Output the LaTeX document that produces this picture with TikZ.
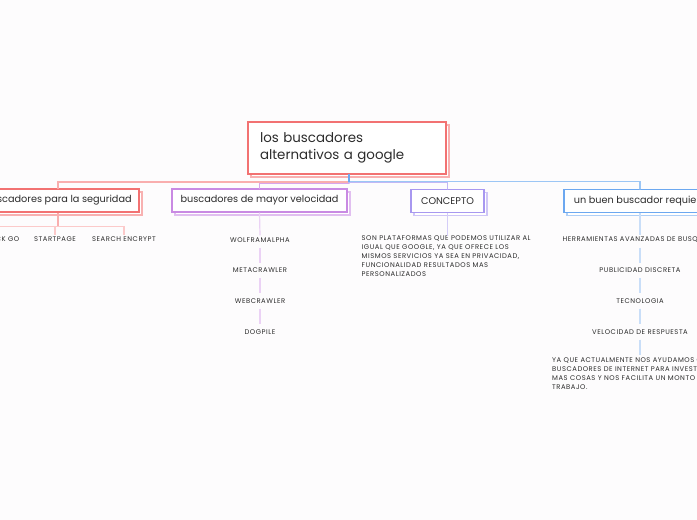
\documentclass[tikz,border=0pt]{standalone}
\usepackage{fontspec}
\setmainfont{Poppins}
\newfontfamily\capsfont[LetterSpace=8]{Poppins}
\usetikzlibrary{shadows}
\definecolor{bg}{HTML}{FDFCFD}
\definecolor{cred}{HTML}{F27272}
\definecolor{lred}{HTML}{F9AEAE}
\definecolor{sred}{HTML}{FCCACA}
\definecolor{cpur}{HTML}{C98AE3}
\definecolor{lpur}{HTML}{D9A6EC}
\definecolor{spur}{HTML}{EBD2F5}
\definecolor{clav}{HTML}{A898F0}
\definecolor{llav}{HTML}{C2B8F5}
\definecolor{cblu}{HTML}{6CA8F0}
\definecolor{lblu}{HTML}{9CC6F5}
\definecolor{sblu}{HTML}{C9DEF8}
\definecolor{txt}{HTML}{2C2C2C}
\begin{document}
\begin{tikzpicture}[x=1pt,y=-1pt,
  box/.style={draw=#1, line width=1.2pt, fill=white, rectangle, inner sep=0pt,
    copy shadow={shadow xshift=3pt, shadow yshift=-3pt, draw=#1!55, fill=white}},
  childtxt/.style={font=\fontsize{9.7}{12}\selectfont, text=txt, minimum height=23pt},
  item/.style={font=\capsfont\fontsize{6.8}{9}\selectfont, text=txt, inner sep=0pt, minimum height=9pt},
  para/.style={font=\capsfont\fontsize{6.8}{9}\selectfont, text=txt, inner sep=0pt, align=left, anchor=north west},
  main/.style={line width=1.6pt, line cap=round},
  sub/.style={line width=1.2pt},
]
\useasboundingbox[fill=bg] (0,0) rectangle (697,520);
\clip (0,0) rectangle (697,520);

% root
\node[box=cred, minimum width=198pt, minimum height=52pt, text width=174pt, align=left,
  font=\fontsize{13.4}{17}\selectfont, text=txt] (root) at (347,148)
  {los buscadores\\alternativos a google};

% children
\node[box=cred, childtxt, minimum width=162pt] (c1) at (58,200.5) {buscadores para la seguridad};
\node[box=cpur, childtxt, minimum width=175pt] (c2) at (259.5,200.5) {buscadores de mayor velocidad};
\node[box=clav, childtxt, minimum width=73pt] (c3) at (447.5,201) {CONCEPTO};
\node[box=cblu, childtxt, minimum width=152pt] (c4) at (640,201) {un buen buscador requiere};

% main connectors
\coordinate (rb) at ([xshift=2pt]root.south);
\draw[main, lred] (rb) -- ++(0,7.5) -| (c1.north);
\draw[main, lpur] ([yshift=-1pt]rb |- 0,182.5) -| (c2.north);
\draw[main, llav] (rb) -- ++(0,8) -| (c3.north);
\draw[main, lblu] (rb) -- ++(0,7) -| (c4.north);
\draw[main, cblu] (rb) -- ++(0,7);

% left branch items
\node[item] (d1) at (-9,239.5) {DUCK DUCK GO};
\node[item] (d2) at (55,239.5) {STARTPAGE};
\node[item] (d3) at (124,239.5) {SEARCH ENCRYPT};
\coordinate (b1) at (58,226.5);
\draw[sub, lred] (c1.south) -- (b1);
\draw[sub, sred] (b1) -| (d1.north);
\draw[sub, sred] (b1) -| (d2.north);
\draw[sub, sred] (b1) -| (d3.north);

% purple branch items
\node[item] (p1) at (260,240) {WOLFRAMALPHA};
\node[item] (p2) at (260,270.5) {METACRAWLER};
\node[item] (p3) at (260,301) {WEBCRAWLER};
\node[item] (p4) at (260,332) {DOGPILE};
\draw[sub, spur] (c2.south) -- (p1.north);
\draw[sub, spur, shorten <=3pt, shorten >=3pt] (p1.south) -- (p2.north);
\draw[sub, spur, shorten <=3pt, shorten >=3pt] (p2.south) -- (p3.north);
\draw[sub, spur, shorten <=3pt, shorten >=3pt] (p3.south) -- (p4.north);

% concept
\node[para] (k1) at (361.5,235.5) {SON PLATAFORMAS QUE PODEMOS UTILIZAR AL\\IGUAL QUE GOOGLE, YA QUE OFRECE LOS\\MISMOS SERVICIOS YA SEA EN PRIVACIDAD,\\FUNCIONALIDAD RESULTADOS MAS\\PERSONALIZADOS};
\draw[sub, llav!70] (c3.south) -- (c3.south |- k1.north);

% blue branch items
\node[item] (q1) at (640,240) {HERRAMIENTAS AVANZADAS DE BUSQUEDA};
\node[item] (q2) at (640,270.5) {PUBLICIDAD DISCRETA};
\node[item] (q3) at (640,301) {TECNOLOGIA};
\node[item] (q4) at (640,332) {VELOCIDAD DE RESPUESTA};
\node[para] (q5) at (552,357.5) {YA QUE ACTUALMENTE NOS AYUDAMOS CON LOS\\BUSCADORES DE INTERNET PARA INVESTIGAR\\MAS COSAS Y NOS FACILITA UN MONTO DE\\TRABAJO.};
\draw[sub, sblu] (c4.south) -- (q1.north);
\draw[sub, sblu, shorten <=3pt, shorten >=3pt] (q1.south) -- (q2.north);
\draw[sub, sblu, shorten <=3pt, shorten >=3pt] (q2.south) -- (q3.north);
\draw[sub, sblu, shorten <=3pt, shorten >=3pt] (q3.south) -- (q4.north);
\draw[sub, sblu, shorten <=3pt, shorten >=3pt] (q4.south) -- (q4.south |- q5.north);
\end{tikzpicture}
\end{document}
